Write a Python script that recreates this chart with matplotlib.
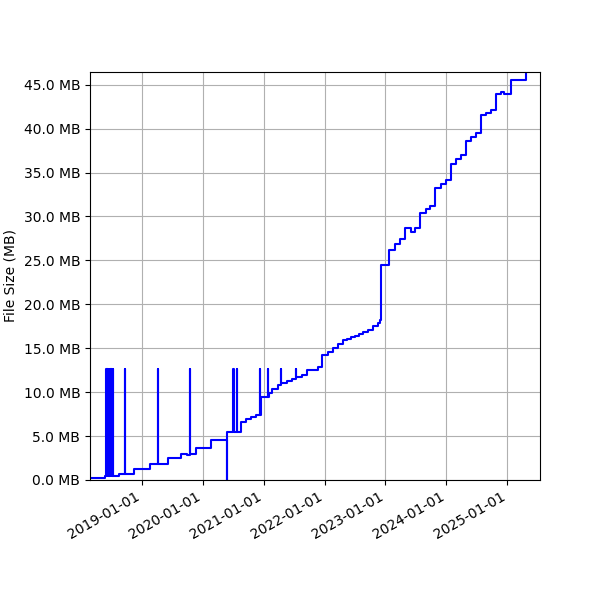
import matplotlib
matplotlib.use("Agg")
import matplotlib.pyplot as plt
import matplotlib.dates as mdates
from matplotlib.ticker import FuncFormatter, MultipleLocator
import pandas as pd

# file size history (steps), values in MB
dates = [
    "2018-02-25", "2018-05-24",
    "2018-06-01", "2018-06-05", "2018-06-09", "2018-06-13", "2018-06-17", "2018-06-21",
    "2018-06-25", "2018-06-29", "2018-07-03", "2018-07-07", "2018-07-11", "2018-07-15",
    "2018-07-19",
    "2018-08-16", "2018-09-20", "2018-09-22", "2018-11-16",
    "2019-02-20", "2019-04-09", "2019-04-11", "2019-06-08", "2019-08-24",
    "2019-09-28", "2019-10-17", "2019-10-19", "2019-11-22",
    "2020-02-20", "2020-05-24", "2020-05-26", "2020-07-03", "2020-07-05",
    "2020-07-23", "2020-07-25", "2020-08-16", "2020-09-17", "2020-10-17",
    "2020-11-13", "2020-12-10", "2020-12-12", "2020-12-16",
    "2021-01-25", "2021-01-27", "2021-02-02", "2021-02-22", "2021-03-26",
    "2021-04-13", "2021-04-15", "2021-05-19", "2021-06-22", "2021-07-12",
    "2021-07-14", "2021-08-17", "2021-09-16", "2021-11-24", "2021-12-15",
    "2022-01-24", "2022-02-22", "2022-03-24", "2022-04-23", "2022-05-15",
    "2022-06-08", "2022-07-02", "2022-07-26", "2022-08-19", "2022-09-20",
    "2022-10-20", "2022-11-19", "2022-11-30", "2022-12-08",
    "2023-01-25", "2023-02-27", "2023-03-29", "2023-04-28", "2023-06-01",
    "2023-06-27", "2023-07-27", "2023-08-30", "2023-09-25", "2023-10-25",
    "2023-11-27", "2023-12-28",
    "2024-01-30", "2024-02-28", "2024-03-27", "2024-04-28", "2024-05-27",
    "2024-06-25", "2024-07-25", "2024-08-24", "2024-09-23", "2024-10-23",
    "2024-11-23", "2024-12-13",
    "2025-01-22", "2025-04-20",
]
sizes_mb = [
    0.27, 0.45,
    12.6, 0.45, 12.6, 0.45, 12.6, 0.45,
    12.6, 0.45, 12.6, 0.45, 12.6, 0.45,
    0.45,
    0.65, 12.6, 0.65, 1.3,
    1.8, 12.6, 1.8, 2.55, 3.0,
    2.85, 12.6, 3.0, 3.6,
    4.55, 0.0, 5.5, 12.6, 5.5,
    12.6, 5.5, 6.6, 6.9, 7.15,
    7.4, 12.6, 7.4, 9.4,
    12.6, 9.4, 9.9, 10.4, 10.8,
    12.6, 11.1, 11.3, 11.5, 12.6,
    11.75, 12.0, 12.5, 12.9, 14.2,
    14.6, 15.0, 15.5, 15.9, 16.1,
    16.3, 16.45, 16.6, 16.8, 17.1,
    17.5, 17.85, 18.2, 24.5,
    26.2, 26.9, 27.4, 28.7, 28.2,
    28.7, 30.4, 30.8, 31.2, 33.3,
    33.7, 34.1,
    36.0, 36.5, 37.0, 38.6, 39.0,
    39.5, 41.5, 41.8, 42.1, 43.9,
    44.2, 43.9,
    45.5, 46.45,
]

df = pd.DataFrame({"date": pd.to_datetime(dates), "size": sizes_mb})

fig, ax = plt.subplots(figsize=(6, 6), dpi=100)
ax.plot(df["date"], df["size"], drawstyle="steps-post", color="blue", linewidth=1.5)

ax.set_ylabel("File Size (MB)")
ax.yaxis.set_major_locator(MultipleLocator(5))
ax.yaxis.set_major_formatter(FuncFormatter(lambda v, p: f"{v:.1f} MB"))
ax.set_ylim(0, max(sizes_mb))
ax.set_xlim(pd.Timestamp("2018-02-25"), pd.Timestamp("2025-07-15"))

ax.xaxis.set_major_locator(mdates.YearLocator())
ax.xaxis.set_major_formatter(mdates.DateFormatter("%Y-%m-%d"))
ax.grid(True)
fig.autofmt_xdate()
fig.subplots_adjust(left=0.15, right=0.9, top=0.88, bottom=0.2)

fig.savefig("out.png")
